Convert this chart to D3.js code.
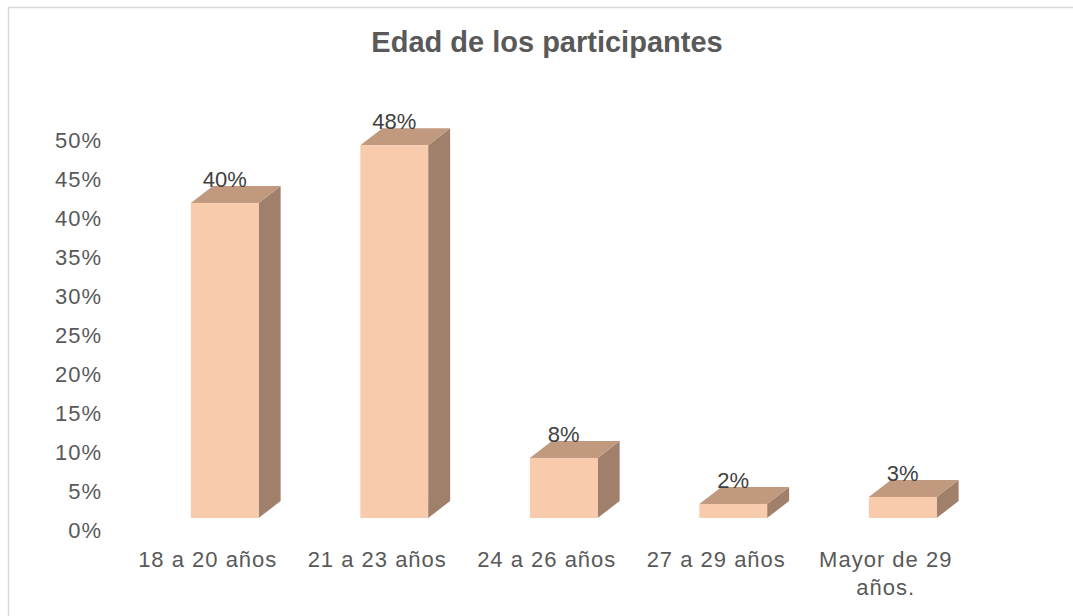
<!DOCTYPE html>
<html>
<head>
<meta charset="utf-8"/>
<title>Edad de los participantes</title>
<script src="https://cdn.jsdelivr.net/npm/d3@7/dist/d3.min.js"></script>
<style>
  body { margin: 0; background: #fff; }
  text { font-family: "Liberation Sans", Arial, sans-serif; }
</style>
</head>
<body>
<div id="chart"></div>
<script>
// data
var categories = ["18 a 20 años", "21 a 23 años", "24 a 26 años", "27 a 29 años", "Mayor de 29 años."];
var values = [0.404, 0.478, 0.077, 0.018, 0.027];
var yTicks = [0, 0.05, 0.10, 0.15, 0.20, 0.25, 0.30, 0.35, 0.40, 0.45, 0.50];
var title = "Edad de los participantes";

var W = 1073, H = 616;
var depthX = 22, depthY = -17;   // 3d offset of the columns

var svg = d3.select("#chart").append("svg")
    .attr("width", W)
    .attr("height", H);

// chart frame
svg.append("rect")
    .attr("x", 8.5).attr("y", 7.5)
    .attr("width", 1100).attr("height", 700)
    .attr("fill", "#fff")
    .attr("stroke", "#d9d9d9")
    .attr("stroke-width", 1.5);

svg.append("text")
    .attr("x", 547).attr("y", 52)
    .attr("text-anchor", "middle")
    .attr("font-size", 29)
    .attr("font-weight", "bold")
    .attr("fill", "#595959")
    .text(title);

var x = d3.scaleBand()
    .domain(categories)
    .range([140, 987.5])
    .paddingInner(0.6)
    .paddingOuter(0.3);

var y = d3.scaleLinear()
    .domain([0, 0.5])
    .range([518, 128]);

// value axis (sits a little lower, on the floor front edge)
var yAxis = d3.axisLeft(y)
    .tickValues(yTicks)
    .tickFormat(d3.format(".0%"))
    .tickSize(0)
    .tickPadding(0);

var gy = svg.append("g")
    .attr("transform", "translate(102,12)")
    .call(yAxis);
gy.select(".domain").remove();
gy.selectAll("text")
    .attr("font-size", 22)
    .attr("font-family", "Liberation Sans, Arial, sans-serif")
    .attr("fill", "#595959")
    .attr("letter-spacing", 1);

// columns
var bars = svg.append("g").selectAll("g")
    .data(categories)
    .join("g");

bars.each(function(c, i) {
    var g = d3.select(this);
    var x0 = x(c), x1 = x(c) + x.bandwidth();
    var yt = y(values[i]), yb = y(0);
    // side
    g.append("path")
        .attr("d", "M" + x1 + "," + yb + "L" + (x1 + depthX) + "," + (yb + depthY) +
            "L" + (x1 + depthX) + "," + (yt + depthY) + "L" + x1 + "," + yt + "Z")
        .attr("fill", "#a0806b");
    // top
    g.append("path")
        .attr("d", "M" + x0 + "," + yt + "L" + (x0 + depthX) + "," + (yt + depthY) +
            "L" + (x1 + depthX) + "," + (yt + depthY) + "L" + x1 + "," + yt + "Z")
        .attr("fill", "#c0997e");
    // front
    g.append("rect")
        .attr("x", x0).attr("y", yt)
        .attr("width", x.bandwidth())
        .attr("height", yb - yt)
        .attr("fill", "#f8cbad");
});

// data labels
svg.append("g").selectAll("text")
    .data(categories)
    .join("text")
    .attr("x", function(c) { return x(c) + x.bandwidth() / 2; })
    .attr("y", function(c, i) { return y(values[i]) - 16; })
    .attr("text-anchor", "middle")
    .attr("font-size", 22)
    .attr("fill", "#404040")
    .text(function(c, i) { return d3.format(".0%")(values[i]); });

// category labels, wrapped to two lines when too long
var cat = svg.append("g").selectAll("text")
    .data(categories)
    .join("text")
    .attr("x", function(c) { return x(c) + x.bandwidth() / 2 - 17; })
    .attr("y", 567)
    .attr("text-anchor", "middle")
    .attr("font-size", 22)
    .attr("fill", "#595959")
    .attr("letter-spacing", 1);

cat.each(function(c) {
    var t = d3.select(this);
    var lines = c.length > 13 ? [c.slice(0, c.lastIndexOf(" ")), c.slice(c.lastIndexOf(" ") + 1)] : [c];
    lines.forEach(function(l, k) {
        t.append("tspan")
            .attr("x", t.attr("x"))
            .attr("dy", k == 0 ? 0 : 28)
            .text(l);
    });
});
</script>
</body>
</html>
